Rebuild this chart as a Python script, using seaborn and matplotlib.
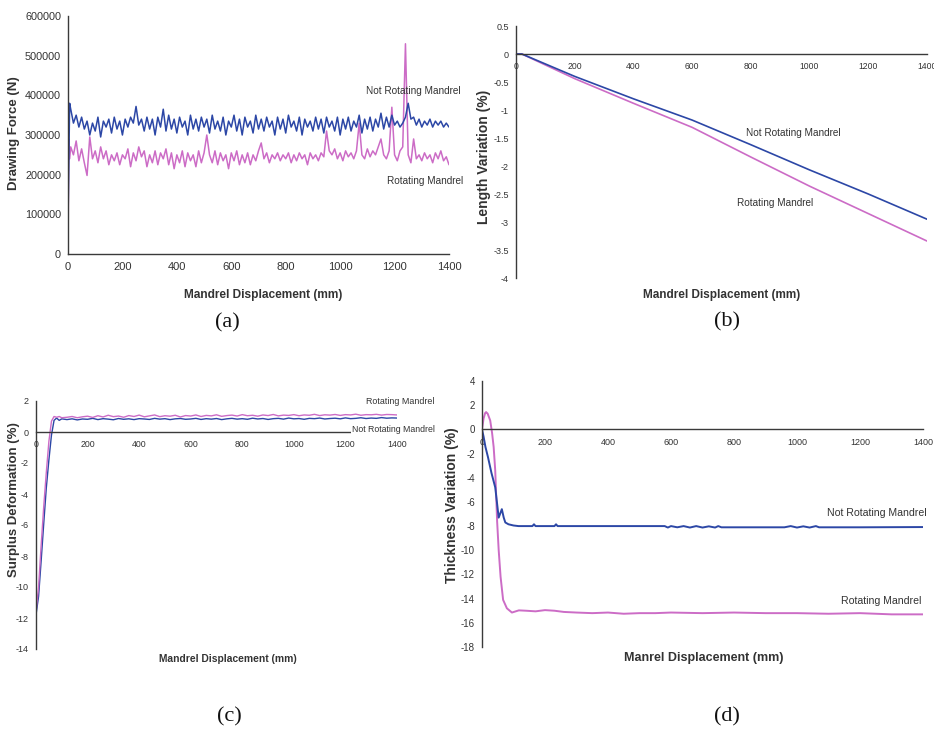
import numpy as np
import matplotlib
matplotlib.use("Agg")
import matplotlib.pyplot as plt
import seaborn as sns

# ---------------- data ----------------
# (a) drawing force, kN values
xa = [0, 3, 6] + list(range(10, 1401, 10))
force_not_rot_k = [80, 230, 380,
    365, 330, 350, 320, 345, 315, 335, 300, 330, 310,
    345, 295, 335, 320, 340, 305, 345, 315, 335, 300,
    340, 320, 345, 330, 372, 325, 340, 310, 345, 315,
    340, 300, 345, 320, 365, 310, 350, 315, 340, 305,
    345, 320, 335, 300, 350, 315, 340, 310, 345, 320,
    340, 305, 350, 315, 335, 310, 345, 300, 335, 320,
    350, 310, 340, 300, 345, 320, 335, 305, 350, 315,
    340, 310, 345, 320, 335, 300, 345, 315, 340, 305,
    350, 320, 335, 310, 345, 300, 340, 320, 335, 310,
    345, 315, 340, 305, 345, 320, 335, 310, 345, 300,
    340, 315, 345, 310, 335, 320, 350, 305, 340, 315,
    345, 310, 340, 320, 355, 315, 345, 320, 350, 325,
    335, 320, 330, 345, 380, 340, 345, 325, 340, 320,
    335, 325, 340, 320, 335, 325, 335, 320, 330, 320]
force_rot_k = [0, 290, 240,
    270, 250, 285, 235, 265, 230, 198, 295, 240, 260,
    230, 270, 240, 260, 225, 250, 235, 255, 225, 250,
    240, 265, 220, 255, 235, 270, 245, 260, 220, 250,
    230, 260, 225, 255, 240, 265, 225, 255, 215, 250,
    230, 260, 220, 255, 235, 250, 220, 260, 230, 255,
    300, 250, 230, 260, 225, 255, 235, 250, 215, 255,
    235, 260, 225, 250, 230, 255, 225, 250, 235, 260,
    280, 240, 255, 230, 250, 240, 255, 235, 250, 240,
    255, 230, 250, 235, 255, 240, 250, 225, 255, 240,
    250, 235, 255, 245, 310, 260, 250, 265, 240, 255,
    235, 260, 245, 255, 240, 260, 330, 250, 240, 265,
    245, 260, 250, 270, 290, 250, 240, 260, 370, 250,
    235, 260, 270, 530, 250, 230, 290, 240, 250, 235,
    255, 240, 250, 230, 255, 240, 260, 235, 245, 225]

# (b) length variation (%)
xb = [0, 20, 200, 400, 600, 800, 1000, 1200, 1400]
len_not_rot = [0, 0, -0.40, -0.80, -1.18, -1.62, -2.07, -2.50, -2.95]
len_rot = [0, 0, -0.44, -0.88, -1.31, -1.84, -2.36, -2.85, -3.34]

# (c) surplus deformation (%)
xc_head = [0, 10, 20, 30, 40, 50, 60, 70, 80, 90, 100]
surp_not_rot_head = [-11.8, -10.6, -8.3, -5.9, -3.6, -1.8, -0.2, 0.75, 0.9, 0.75, 0.85]
surp_rot_head = [-11.6, -10.0, -7.3, -4.8, -2.6, -0.6, 0.7, 1.0, 0.95, 1.0, 0.92]
surp_not_rot_tail = [0.80, 0.85, 0.78, 0.84, 0.82, 0.88, 0.80, 0.86, 0.83, 0.79,
    0.87, 0.82, 0.85, 0.80, 0.86, 0.84, 0.81, 0.88, 0.83, 0.86,
    0.80, 0.85, 0.87, 0.82, 0.84, 0.88, 0.81, 0.86, 0.83, 0.87,
    0.80, 0.85, 0.88, 0.83, 0.86, 0.82, 0.89, 0.84, 0.87, 0.81,
    0.86, 0.88, 0.83, 0.90, 0.85, 0.87, 0.82, 0.88, 0.86, 0.90,
    0.84, 0.87, 0.89, 0.85, 0.91, 0.86, 0.88, 0.92, 0.87, 0.90,
    0.88, 0.93, 0.89, 0.91, 0.90]
surp_rot_tail = [0.95, 1.00, 0.92, 0.98, 1.02, 0.94, 1.05, 0.97, 1.08, 0.99,
    1.03, 0.95, 1.06, 1.00, 1.09, 0.98, 1.04, 1.10, 0.99, 1.05,
    1.02, 1.08, 0.97, 1.06, 1.03, 1.10, 1.00, 1.07, 1.04, 1.11,
    1.01, 1.06, 1.09, 1.03, 1.12, 1.05, 1.08, 1.02, 1.10, 1.06,
    1.13, 1.04, 1.09, 1.07, 1.12, 1.05, 1.10, 1.08, 1.14, 1.06,
    1.11, 1.09, 1.13, 1.07, 1.12, 1.10, 1.15, 1.08, 1.12, 1.11,
    1.14, 1.09, 1.13, 1.12, 1.10]

# (d) thickness variation (%)
xd_not_rot = [0, 5, 11, 19, 30, 42, 53, 63, 69, 74, 84, 100, 116, 160, 165, 170,
              230, 235, 240, 400, 580, 590, 600, 620, 640, 660, 680, 700, 720,
              740, 750, 760, 960, 980, 1000, 1020, 1040, 1060, 1070, 1200, 1400]
thick_not_rot = [0, -0.6, -1.46, -2.3, -3.6, -4.8, -7.3, -6.6, -7.3, -7.7, -7.85,
                 -7.95, -8.0, -8.0, -7.85, -8.0, -8.0, -7.85, -8.0, -8.0, -8.0,
                 -8.12, -8.0, -8.1, -8.0, -8.12, -8.0, -8.12, -8.02, -8.12, -8.0,
                 -8.1, -8.1, -8.0, -8.12, -8.02, -8.12, -8.0, -8.1, -8.1, -8.08]
xd_rot = [0, 5, 10, 13, 18, 26, 32, 37, 42, 48, 53, 59, 67, 79, 95, 117, 140, 170,
          200, 230, 260, 300, 350, 400, 450, 500, 550, 600, 700, 800, 900, 1000,
          1100, 1200, 1300, 1400]
thick_rot = [0, 0.9, 1.35, 1.43, 1.3, 0.74, -0.3, -1.46, -3.4, -7.6, -10.0, -12.2,
             -14.1, -14.8, -15.15, -14.97, -15.0, -15.05, -14.95, -15.0, -15.1,
             -15.15, -15.2, -15.15, -15.25, -15.2, -15.2, -15.15, -15.2, -15.15,
             -15.2, -15.2, -15.25, -15.2, -15.3, -15.3]

x_ticks = [0, 200, 400, 600, 800, 1000, 1200, 1400]

# ---------------- style ----------------
sns.set_theme(style="white")
NARROW = ['Liberation Sans Narrow', 'Liberation Sans', 'DejaVu Sans']
SERIF = ['Liberation Serif', 'DejaVu Serif']
plt.rcParams['font.family'] = NARROW
TXT = '#333333'
AX = '#3a3a3a'
BLUE = '#2c47a6'
PINK = '#cc6cc6'

W, H = 934, 731
fig = plt.figure(figsize=(W / 100, H / 100), dpi=100)
fig.patch.set_facecolor('white')


def axes_px(l, t, r, b):
    return fig.add_axes([l / W, 1 - b / H, (r - l) / W, (b - t) / H])


def ftext(x, y, s, **kw):
    kw.setdefault('color', TXT)
    kw.setdefault('family', NARROW)
    return fig.text(x / W, 1 - y / H, s, **kw)


def style(ax, ylim, yticks, ylabels, zero_axis, xsize, ysize):
    ax.set_facecolor('none')
    ax.set_xlim(0, 1400)
    ax.set_ylim(*ylim)
    ax.set_xticks(x_ticks)
    ax.set_xticklabels([str(v) for v in x_ticks])
    ax.set_yticks(yticks)
    ax.set_yticklabels(ylabels)
    for s in ['top', 'right']:
        ax.spines[s].set_visible(False)
    for s in ['left', 'bottom']:
        ax.spines[s].set_color(AX)
        ax.spines[s].set_linewidth(1.0)
    if zero_axis:
        ax.spines['bottom'].set_position(('data', 0))
    ax.tick_params(axis='both', direction='out', length=3, width=0.9,
                   colors=AX, labelcolor=TXT, pad=2)
    ax.tick_params(axis='x', labelsize=xsize, pad=3)
    ax.tick_params(axis='y', labelsize=ysize)
    ax.set_xlabel('')
    ax.set_ylabel('')
    ax.grid(False)


def line(ax, x, y, color, lw):
    sns.lineplot(x=list(x), y=list(y), ax=ax, color=color, linewidth=lw,
                 estimator=None, sort=False, legend=False)


# (a)
axa = axes_px(68, 16, 449, 254)
line(axa, xa, np.array(force_rot_k) * 1000, PINK, 1.1)
line(axa, xa, np.array(force_not_rot_k) * 1000, BLUE, 1.1)
ya = [0, 100000, 200000, 300000, 400000, 500000, 600000]
style(axa, (0, 600000), ya, [str(v) for v in ya], False, 8, 7.8)
ftext(14, 133, 'Drawing Force (N)', rotation=90, ha='center', va='center',
      fontsize=9.5, fontweight='bold')
ftext(263, 295, 'Mandrel Displacement (mm)', ha='center', va='center',
      fontsize=8.6, fontweight='bold')
ftext(413, 91, 'Not Rotating Mandrel', ha='center', va='center', fontsize=7.2)
ftext(425, 181, 'Rotating Mandrel', ha='center', va='center', fontsize=7.2)
ftext(227, 323, '(a)', ha='center', va='center', fontsize=16, family=SERIF,
      color='#111111')

# (b)
axb = axes_px(516, 26, 927, 278)
line(axb, xb, len_rot, PINK, 1.2)
line(axb, xb, len_not_rot, BLUE, 1.2)
yb = [0.5, 0, -0.5, -1, -1.5, -2, -2.5, -3, -3.5, -4]
style(axb, (-4, 0.5), yb, [f"{v:g}" for v in yb], True, 6.2, 6.5)
ftext(484, 157, 'Length Variation (%)', rotation=90, ha='center', va='center',
      fontsize=10, fontweight='bold')
ftext(722, 295, 'Mandrel Displacement (mm)', ha='center', va='center',
      fontsize=8.5, fontweight='bold')
ftext(793, 133, 'Not Rotating Mandrel', ha='center', va='center', fontsize=7.2)
ftext(775, 203, 'Rotating Mandrel', ha='center', va='center', fontsize=7.2)
ftext(727, 322, '(b)', ha='center', va='center', fontsize=16, family=SERIF,
      color='#111111')

# (c)
axc = axes_px(36, 401, 397, 649)
xc = xc_head + list(range(120, 120 + 20 * len(surp_not_rot_tail), 20))
line(axc, xc, surp_not_rot_head + surp_not_rot_tail, BLUE, 1.0)
line(axc, xc, surp_rot_head + surp_rot_tail, PINK, 1.0)
yc = [2, 0, -2, -4, -6, -8, -10, -12, -14]
style(axc, (-14, 2), yc, [str(v) for v in yc], True, 6.3, 6.5)
ftext(14, 500, 'Surplus Deformation (%)', rotation=90, ha='center', va='center',
      fontsize=9.5, fontweight='bold')
ftext(228, 659, 'Mandrel Displacement (mm)', ha='center', va='center',
      fontsize=7.4, fontweight='bold')
ftext(400, 401, 'Rotating Mandrel', ha='center', va='center', fontsize=6.4)
ftext(393, 429, 'Not Rotating Mandrel', ha='center', va='center', fontsize=6.3,
      bbox=dict(facecolor='white', edgecolor='none', pad=0.5))
ftext(229, 717, '(c)', ha='center', va='center', fontsize=16, family=SERIF,
      color='#111111')

# (d)
axd = axes_px(482, 381, 923, 647)
line(axd, xd_rot, thick_rot, PINK, 1.4)
line(axd, xd_not_rot, thick_not_rot, BLUE, 1.4)
yd = [4, 2, 0, -2, -4, -6, -8, -10, -12, -14, -16, -18]
style(axd, (-18, 4), yd, [str(v) for v in yd], True, 6.5, 7)
ftext(452, 505, 'Thickness Variation (%)', rotation=90, ha='center', va='center',
      fontsize=10, fontweight='bold')
ftext(704, 658, 'Manrel Displacement (mm)', ha='center', va='center',
      fontsize=9, fontweight='bold')
ftext(877, 513, 'Not Rotating Mandrel', ha='center', va='center', fontsize=7.6)
ftext(881, 601, 'Rotating Mandrel', ha='center', va='center', fontsize=7.6)
ftext(727, 717, '(d)', ha='center', va='center', fontsize=16, family=SERIF,
      color='#111111')

fig.savefig('out.png', dpi=100, facecolor='white')
